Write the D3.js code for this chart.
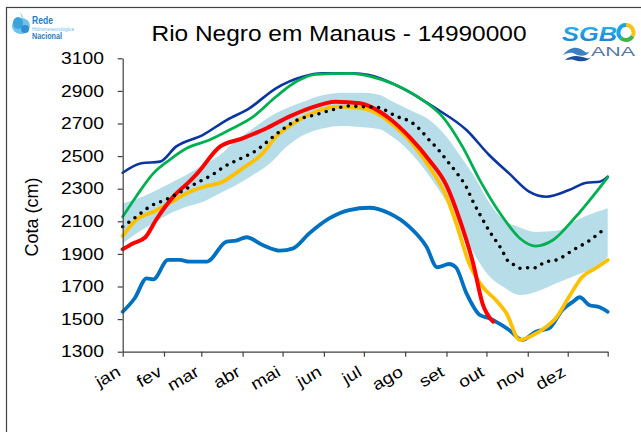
<!DOCTYPE html>
<html>
<head>
<meta charset="utf-8">
<script src="https://cdn.jsdelivr.net/npm/d3@7"></script>
<style>
  body { margin: 0; background: #fff; }
  svg { display: block; }
  text { font-family: Arial, "Liberation Sans", sans-serif; }
</style>
</head>
<body>
<div id="chart"></div>
<script>
// DATA
var months = ["jan", "fev", "mar", "abr", "mai", "jun", "jul", "ago", "set", "out", "nov", "dez"];
var monthStart = [0, 31, 59, 90, 120, 151, 181, 212, 243, 273, 304, 334];
var yTicks = [1300, 1500, 1700, 1900, 2100, 2300, 2500, 2700, 2900, 3100];

// envelope (light blue band)
var bandDays  = [0, 10, 23, 35, 48, 60, 73, 85, 98, 110, 123, 135, 150, 165, 180, 193, 200, 215, 230, 243, 255, 265, 275, 285, 298, 310, 325, 340, 355, 364];
var bandUpper = [2210, 2236, 2282, 2330, 2385, 2445, 2507, 2596, 2671, 2740, 2793, 2832, 2874, 2889, 2889, 2875, 2846, 2785, 2723, 2619, 2482, 2360, 2215, 2115, 2062, 2035, 2040, 2105, 2155, 2180];
var bandLower = [1965, 2024, 2088, 2147, 2190, 2219, 2272, 2321, 2385, 2452, 2558, 2626, 2670, 2685, 2677, 2664, 2632, 2530, 2380, 2220, 2047, 1883, 1765, 1702, 1648, 1667, 1718, 1768, 1821, 1883];

// [day, cota]
var median = [[0, 2067], [11, 2133], [21, 2194], [33, 2235], [44, 2282], [55, 2333], [67, 2384], [77, 2439], [89, 2487], [100, 2533], [110, 2599], [120, 2664], [131, 2721], [144, 2752], [157, 2783], [169, 2807], [180, 2803], [191, 2799], [206, 2742], [216, 2711], [223, 2664], [230, 2599], [236, 2548], [243, 2476], [251, 2394], [258, 2308], [263, 2220], [269, 2128], [275, 2042], [280, 1981], [285, 1918], [288, 1869], [293, 1836], [298, 1812], [304, 1815], [310, 1815], [316, 1846], [327, 1867], [338, 1924], [349, 1975], [359, 2036]];

var navy = [[0, 2398], [14, 2456], [28, 2466], [40, 2558], [60, 2629], [78, 2721], [95, 2793], [115, 2916], [135, 2987], [150, 3008], [172, 3008], [185, 2997], [210, 2916], [235, 2793], [258, 2660], [275, 2507], [290, 2394], [305, 2282], [318, 2251], [335, 2292], [348, 2337], [358, 2343], [364, 2374]];

var green = [[0, 2128], [10, 2251], [23, 2394], [35, 2476], [48, 2548], [65, 2599], [80, 2660], [98, 2742], [115, 2864], [130, 2956], [145, 3002], [170, 3008], [185, 2991], [205, 2936], [223, 2855], [240, 2742], [255, 2558], [268, 2353], [285, 2128], [298, 1996], [310, 1948], [323, 1985], [340, 2128], [364, 2370]];

var blue = [[0, 1545], [9, 1628], [18, 1750], [23, 1744], [34, 1863], [43, 1863], [50, 1852], [63, 1852], [78, 1975], [85, 1981], [93, 2002], [105, 1955], [118, 1920], [128, 1934], [140, 2026], [155, 2118], [170, 2169], [185, 2183], [200, 2149], [215, 2067], [228, 1944], [236, 1818], [245, 1838], [250, 1818], [258, 1658], [268, 1525], [275, 1505], [283, 1470], [290, 1433], [300, 1372], [310, 1423], [320, 1443], [330, 1556], [338, 1607], [343, 1634], [350, 1587], [358, 1572], [364, 1545]];

var yellow = [[0, 2010], [10, 2108], [23, 2159], [35, 2210], [48, 2272], [60, 2309], [75, 2343], [90, 2425], [105, 2517], [115, 2619], [128, 2701], [145, 2772], [163, 2803], [180, 2793], [193, 2752], [200, 2711], [215, 2599], [230, 2435], [243, 2251], [250, 2095], [260, 1842], [270, 1699], [280, 1617], [288, 1536], [298, 1372], [308, 1402], [318, 1453], [325, 1505], [335, 1637], [345, 1760], [355, 1812], [364, 1863]];

var red = [[0, 1928], [8, 1965], [17, 2002], [25, 2108], [38, 2251], [50, 2343], [56, 2394], [73, 2558], [90, 2609], [108, 2671], [125, 2742], [140, 2793], [160, 2834], [178, 2824], [193, 2772], [200, 2732], [215, 2619], [230, 2476], [243, 2320], [253, 2108], [263, 1842], [270, 1597], [278, 1484]];

// SVG
var W = 641, H = 432;
var svg = d3.select("#chart").append("svg")
    .attr("width", W)
    .attr("height", H);

svg.append("rect").attr("width", W).attr("height", H).attr("fill", "#fff");

// outer frame
svg.append("rect")
    .attr("x", 6.5).attr("y", 7.5)
    .attr("width", 800).attr("height", 600)
    .attr("fill", "none")
    .attr("stroke", "#404040")
    .attr("stroke-width", 1.2);

var x = d3.scaleLinear().domain([0, 364]).range([122.7, 607.7]);
var y = d3.scaleLinear().domain([1300, 3100]).range([351.7, 58.3]);

var sx = 1.17; // labels look horizontally stretched

// band
var bandData = bandDays.map((d, i) => ({ d: d, lo: bandLower[i], hi: bandUpper[i] }));
svg.append("path")
    .datum(bandData)
    .attr("fill", "#b7dde8")
    .attr("d", d3.area()
        .x(d => x(d.d))
        .y0(d => y(d.lo))
        .y1(d => y(d.hi))
        .curve(d3.curveMonotoneX));

var line = d3.line()
    .x(d => x(d[0]))
    .y(d => y(d[1]))
    .curve(d3.curveMonotoneX);

function drawLine(data, color, width) {
    svg.append("path")
        .datum(data)
        .attr("fill", "none")
        .attr("stroke", color)
        .attr("stroke-width", width)
        .attr("stroke-linejoin", "round")
        .attr("stroke-linecap", "round")
        .attr("d", line);
}

drawLine(navy, "#0b35a0", 2.6);
drawLine(green, "#00b050", 2.8);
drawLine(blue, "#0070c0", 3.8);
drawLine(yellow, "#ffc000", 3.8);
drawLine(red, "#ff0000", 4);

// dotted median
svg.append("path")
    .datum(median)
    .attr("fill", "none")
    .attr("stroke", "#000")
    .attr("stroke-width", 3.6)
    .attr("stroke-linecap", "round")
    .attr("stroke-dasharray", "0,7.6")
    .attr("d", line);

// axes
var yAxis = svg.append("g")
    .attr("transform", "translate(" + x(0) + ",0)")
    .call(d3.axisLeft(y).tickValues(yTicks).tickSize(5).tickSizeOuter(0).tickFormat(d3.format("d")));

yAxis.selectAll(".tick text")
    .attr("x", -16)
    .attr("transform", "scale(" + sx + ",1)")
    .style("font-size", "16.5px")
    .attr("fill", "#000");

var xAxis = svg.append("g")
    .attr("transform", "translate(0," + y(1300) + ")")
    .call(d3.axisBottom(x).tickValues(monthStart.concat([364])).tickSize(5).tickSizeOuter(0).tickFormat(""));

svg.selectAll(".domain, .tick line").attr("stroke", "#404040").attr("stroke-width", 1.2);

svg.append("g")
    .selectAll("text")
    .data(months)
    .enter()
    .append("text")
    .attr("transform", (d, i) => "translate(" + (x(monthStart[i]) - 1) + "," + 375 + ") rotate(-30) scale(" + sx + ",1)")
    .attr("text-anchor", "end")
    .style("font-size", "16.5px")
    .text(d => d);

// labels
svg.append("text")
    .attr("transform", "translate(38,217) rotate(-90)")
    .attr("text-anchor", "middle")
    .style("font-size", "18px")
    .text("Cota (cm)");

svg.append("text")
    .attr("x", 339)
    .attr("y", 41)
    .attr("text-anchor", "middle")
    .attr("textLength", 375)
    .attr("lengthAdjust", "spacingAndGlyphs")
    .style("font-size", "22px")
    .text("Rio Negro em Manaus - 14990000");

// logo Rede Hidrometeorológica Nacional
var lg = svg.append("g");
lg.append("ellipse").attr("cx", 21).attr("cy", 26).attr("rx", 9).attr("ry", 8).attr("fill", "#6ec1ea");
lg.append("ellipse").attr("cx", 18).attr("cy", 23).attr("rx", 5).attr("ry", 6).attr("fill", "#3aa3dc");
lg.append("ellipse").attr("cx", 25).attr("cy", 29).attr("rx", 4).attr("ry", 4).attr("fill", "#2f8fd0");
lg.append("path").attr("d", "M20,12 C22,15 24,17 22,19 Z").attr("fill", "#8fd0f0");
lg.append("text").attr("x", 32).attr("y", 24).style("font-size", "11px").style("font-weight", "bold")
    .attr("textLength", 21).attr("lengthAdjust", "spacingAndGlyphs")
    .attr("fill", "#2f7cc0").text("Rede");
lg.append("text").attr("x", 32).attr("y", 30.5).style("font-size", "4.5px")
    .attr("textLength", 42).attr("lengthAdjust", "spacingAndGlyphs")
    .attr("fill", "#6cc0ea").text("Hidrometeorológica");
lg.append("text").attr("x", 32).attr("y", 39).style("font-size", "8.5px").style("font-weight", "bold")
    .attr("textLength", 30).attr("lengthAdjust", "spacingAndGlyphs")
    .attr("fill", "#2f7cc0").text("Nacional");

// logo SGB / ANA
var defs = svg.append("defs");
var gr = defs.append("linearGradient").attr("id", "sgbgrad").attr("x1", 0).attr("y1", 0).attr("x2", 0).attr("y2", 1);
gr.append("stop").attr("offset", "0%").attr("stop-color", "#29c0ef");
gr.append("stop").attr("offset", "100%").attr("stop-color", "#1a78cf");

var rg = svg.append("g");
rg.append("text").attr("x", 562).attr("y", 41).style("font-size", "21px").style("font-weight", "bold")
    .style("font-style", "italic")
    .attr("textLength", 55).attr("lengthAdjust", "spacingAndGlyphs")
    .attr("fill", "url(#sgbgrad)").text("SGB");
var ringArc = d3.arc().innerRadius(5.5).outerRadius(9.5);
var ring = rg.append("g").attr("transform", "translate(626,32.5)");
[[0, 2.1, "#f3c41a"], [2.1, 3.9, "#3db54a"], [3.9, 6.29, "#1fa3e2"]].forEach(s => {
    ring.append("path").attr("d", ringArc({ startAngle: s[0], endAngle: s[1] })).attr("fill", s[2]);
});
rg.append("path").attr("d", "M563,55 C570,46 578,46 584,51 C586,53 588,53 590,51 C586,58 578,56 573,53 C569,52 566,54 563,55 Z")
    .attr("fill", "#3b7fc4");
rg.append("path").attr("d", "M565,60 C572,54 580,56 586,58 C588,59 590,58 591,57 C588,62 580,62 574,60 C571,59 568,60 565,60 Z")
    .attr("fill", "#1d4f9a");
rg.append("text").attr("x", 591).attr("y", 56).style("font-size", "12.5px")
    .attr("textLength", 44).attr("lengthAdjust", "spacingAndGlyphs")
    .attr("fill", "#5877a3").text("ANA");
</script>
</body>
</html>
